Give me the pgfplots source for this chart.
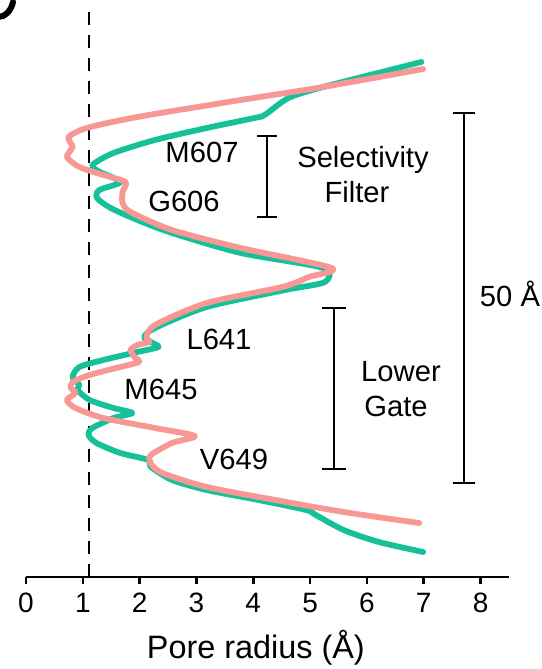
\documentclass[border=0pt]{standalone}
\usepackage{fontspec}
\setmainfont{Liberation Sans}
\usepackage{pgfplots}
\pgfplotsset{compat=1.18}
\definecolor{poreteal}{RGB}{22,192,152}
\definecolor{poresalmon}{RGB}{247,152,148}

\begin{document}
\begin{tikzpicture}
\useasboundingbox (-13pt,-46pt) rectangle (257.5pt,288.5pt);
\begin{axis}[
    at={(0,0)}, anchor=south west,
    scale only axis, width=241.5pt, height=288.5pt,
    xmin=0, xmax=8.5, ymin=0, ymax=577,
    axis x line=bottom, axis y line=none,
    axis line style={line width=1.25pt, -},
    xtick={0,...,8},
    tick style={line width=1.25pt, black},
    tick align=outside, major tick length=3.5pt,
    ticklabel style={font=\fontsize{14}{16}\selectfont, yshift=-1pt},
    /pgf/number format/assume math mode=true,
    xlabel={Pore radius (Å)},
    xlabel style={font=\fontsize{16.2}{18}\selectfont,
        at={(axis description cs:0.476,-0.123)}, anchor=center},
    clip=false,
]
% probe radius line
\addplot[black, line width=1.4pt, dash pattern=on 6.5pt off 5pt]
    coordinates {(1.11,0) (1.11,565)};

% closed state
\addplot[poreteal, line width=2.9pt, line join=round, line cap=round,
    smooth, tension=0.45] coordinates {
    (6.96,515) (5.23,490) (4.62,479) (4.20,462) (4.02,459) (3.18,449)
    (2.27,437) (1.54,424) (1.17,412) (1.30,405) (1.66,395) (1.29,387)
    (1.25,379) (1.49,369) (1.96,357) (2.57,344) (3.78,324) (5.23,309)
    (5.26,295) (4.56,287) (3.18,270) (2.27,249) (2.08,240) (2.20,235)
    (2.33,230) (1.96,225) (1.36,217) (0.94,210) (0.82,200) (0.94,192)
    (0.91,187) (1.12,177) (1.54,169) (1.87,164) (1.54,159) (1.17,149)
    (1.10,142) (1.24,134) (1.66,124) (2.15,117) (2.20,110) (2.57,97)
    (3.18,87) (4.09,77) (4.93,67) (5.10,62) (5.59,47) (6.21,35) (6.99,25)
};

% open state
\addplot[poresalmon, line width=2.9pt, line join=round, line cap=round,
    smooth, tension=0.45] coordinates {
    (6.99,508) (5.23,490) (3.78,477) (1.96,460) (1.07,449) (0.75,440)
    (0.82,430) (0.72,420) (0.94,410) (1.36,402) (1.75,395) (1.70,385)
    (1.70,374) (1.84,365) (2.57,347) (3.78,329) (5.38,309) (4.98,300)
    (4.51,290) (3.18,274) (2.27,252) (2.12,240) (2.17,235) (1.96,232)
    (1.84,227) (1.91,220) (1.99,215) (1.66,210) (1.12,202) (0.82,195)
    (0.79,189) (0.87,184) (0.72,177) (0.87,169) (1.36,159) (2.27,149)
    (2.97,141) (2.57,134) (2.20,122) (2.19,114) (2.40,104) (3.18,90)
    (4.39,77) (5.59,65) (6.92,54)
};
\end{axis}

% annotations, in picture pixels
\begin{scope}[x=0.5pt, y=-0.5pt, shift={(-13pt,288.5pt)},
    every node/.style={font=\fontsize{14.6}{17}\selectfont, inner sep=0pt, anchor=base},
    bar/.style={line width=1.25pt}]
    % remains of the panel letter, cut by the page edge
    \draw[line width=3pt, line cap=round] (-2,17) .. controls (5,17) and (11,11) .. (13,2);

    \node at (202,163) {M607};
    \node at (184,212) {G606};
    \node at (363,168) {Selectivity};
    \node at (357,203) {Filter};
    \draw[bar] (257,136) -- (277,136) (267,136) -- (267,217) (257,217) -- (277,217);

    \node at (219,350) {L641};
    \node at (161,400) {M645};
    \node at (234,470) {V649};
    \node at (401,382) {Lower};
    \node at (396,417) {Gate};
    \draw[bar] (322,308) -- (346,308) (334,308) -- (334,469) (322,469) -- (346,469);

    \node at (510,307) {50 Å};
    \draw[bar] (453,113) -- (475,113) (464,113) -- (464,483) (453,483) -- (475,483);
\end{scope}
\end{tikzpicture}
\end{document}
